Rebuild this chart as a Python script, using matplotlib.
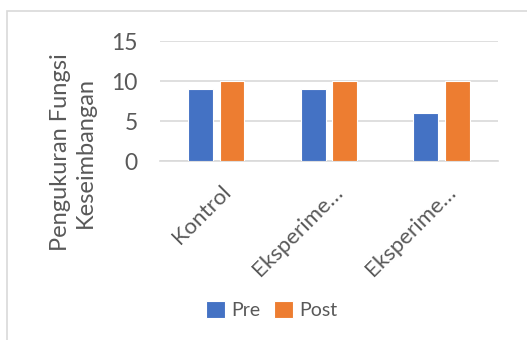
import numpy as np
import matplotlib
matplotlib.use('Agg')
import matplotlib.pyplot as plt
import matplotlib.transforms as mtransforms
from matplotlib.patches import Rectangle

# data
categories = ['Kontrol', 'Eksperime…', 'Eksperime…']
pre = [9, 9, 6]
post = [10, 10, 10]

plt.rcParams['font.family'] = ['Lato', 'DejaVu Sans']
grey = '#595959'

fig = plt.figure(figsize=(5.27, 3.40), dpi=100)
ax = fig.add_axes([160/527, 179/340, 338/527, 120/340])

x = np.arange(len(categories))
w = 0.22
ax.bar(x - 0.14, pre, w, color='#4472C4', edgecolor='white', linewidth=0.8, label='Pre', zorder=3)
ax.bar(x + 0.14, post, w, color='#ED7D31', edgecolor='white', linewidth=0.8, label='Post', zorder=3)

ax.set_xlim(-0.5, 2.5)
ax.set_ylim(0, 15)
ax.set_yticks([0, 5, 10, 15])
ax.yaxis.grid(True, color='#D9D9D9', linewidth=1.2, zorder=0)
for s in ['top', 'right', 'left']:
    ax.spines[s].set_visible(False)
ax.spines['bottom'].set_color('#D9D9D9')
ax.spines['bottom'].set_linewidth(1.2)
ax.tick_params(axis='y', length=0, pad=16, labelsize=16.5, labelcolor=grey)
ax.tick_params(axis='x', length=0, pad=15, labelsize=16, labelcolor=grey)
ax.set_xticks(x)
ax.set_xticklabels(categories, rotation=45, ha='right', va='top', rotation_mode='anchor')
shift = mtransforms.ScaledTranslation(4/100, 0, fig.dpi_scale_trans)
for lab in ax.get_xticklabels():
    lab.set_transform(lab.get_transform() + shift)

fig.text(73/527, 188/340, 'Pengukuran Fungsi\nKeseimbangan', rotation=90,
         ha='center', va='center', multialignment='center', fontsize=17,
         color=grey, linespacing=1.25)

fig.legend(loc='center', bbox_to_anchor=(272/527, 30/340), ncol=2, frameon=False,
           fontsize=14, labelcolor=grey, handlelength=0.95, handleheight=0.95,
           handletextpad=0.35, columnspacing=0.7)

# chart area border
fig.patches.append(Rectangle((7/527, -0.1), 1.2, (329/340) + 0.1, transform=fig.transFigure,
                             fill=False, edgecolor='#D9D9D9', linewidth=1.2))

fig.savefig('out.png', dpi=100)
